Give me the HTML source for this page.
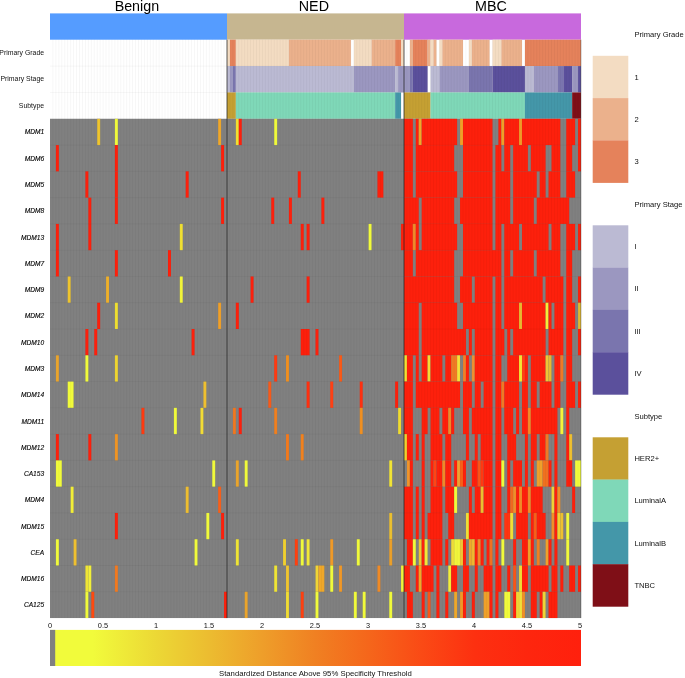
<!DOCTYPE html>
<html><head><meta charset="utf-8"><title>Heatmap</title>
<style>html,body{margin:0;padding:0;background:#fff}svg{display:block;will-change:transform}</style></head>
<body>
<svg width="685" height="678" viewBox="0 0 685 678" font-family="Liberation Sans, sans-serif">
<rect width="685" height="678" fill="#fff"/>
<rect x="50" y="13.4" width="177" height="26.3" fill="#559CFF"/>
<text x="136.9" y="10.7" font-size="14.3" text-anchor="middle" fill="#000">Benign</text>
<rect x="227" y="13.4" width="177" height="26.3" fill="#C6B690"/>
<text x="313.9" y="10.7" font-size="14.3" text-anchor="middle" fill="#000">NED</text>
<rect x="404" y="13.4" width="177" height="26.3" fill="#C869DD"/>
<text x="490.9" y="10.7" font-size="14.3" text-anchor="middle" fill="#000">MBC</text>
<rect x="227" y="39.7" width="2.95" height="26.37" fill="#F3DCC2"/>
<rect x="229.95" y="39.7" width="5.9" height="26.37" fill="#E5825B"/>
<rect x="235.85" y="39.7" width="53.1" height="26.37" fill="#F3DCC2"/>
<rect x="288.95" y="39.7" width="61.95" height="26.37" fill="#EBB18C"/>
<rect x="353.85" y="39.7" width="17.7" height="26.37" fill="#F3DCC2"/>
<rect x="371.55" y="39.7" width="23.6" height="26.37" fill="#EBB18C"/>
<rect x="395.15" y="39.7" width="5.9" height="26.37" fill="#E5825B"/>
<rect x="401.05" y="39.7" width="2.95" height="26.37" fill="#F3DCC2"/>
<rect x="409.9" y="39.7" width="2.95" height="26.37" fill="#EBB18C"/>
<rect x="412.85" y="39.7" width="14.75" height="26.37" fill="#E5825B"/>
<rect x="427.6" y="39.7" width="2.95" height="26.37" fill="#EBB18C"/>
<rect x="430.55" y="39.7" width="2.95" height="26.37" fill="#F3DCC2"/>
<rect x="433.5" y="39.7" width="2.95" height="26.37" fill="#EBB18C"/>
<rect x="439.4" y="39.7" width="2.95" height="26.37" fill="#F3DCC2"/>
<rect x="442.35" y="39.7" width="20.65" height="26.37" fill="#EBB18C"/>
<rect x="468.9" y="39.7" width="2.95" height="26.37" fill="#F3DCC2"/>
<rect x="471.85" y="39.7" width="17.7" height="26.37" fill="#EBB18C"/>
<rect x="492.5" y="39.7" width="8.85" height="26.37" fill="#F3DCC2"/>
<rect x="501.35" y="39.7" width="20.65" height="26.37" fill="#EBB18C"/>
<rect x="524.95" y="39.7" width="56.05" height="26.37" fill="#E5825B"/>
<rect x="227" y="66.07" width="2.95" height="26.37" fill="#BBBAD3"/>
<rect x="229.95" y="66.07" width="2.95" height="26.37" fill="#9B97C0"/>
<rect x="232.9" y="66.07" width="2.95" height="26.37" fill="#7A75AE"/>
<rect x="235.85" y="66.07" width="118" height="26.37" fill="#BBBAD3"/>
<rect x="353.85" y="66.07" width="41.3" height="26.37" fill="#9B97C0"/>
<rect x="395.15" y="66.07" width="2.95" height="26.37" fill="#BBBAD3"/>
<rect x="398.1" y="66.07" width="5.9" height="26.37" fill="#9B97C0"/>
<rect x="404" y="66.07" width="5.9" height="26.37" fill="#9B97C0"/>
<rect x="409.9" y="66.07" width="2.95" height="26.37" fill="#7A75AE"/>
<rect x="412.85" y="66.07" width="14.75" height="26.37" fill="#5B509C"/>
<rect x="430.55" y="66.07" width="8.85" height="26.37" fill="#BBBAD3"/>
<rect x="439.4" y="66.07" width="29.5" height="26.37" fill="#9B97C0"/>
<rect x="468.9" y="66.07" width="23.6" height="26.37" fill="#7A75AE"/>
<rect x="492.5" y="66.07" width="32.45" height="26.37" fill="#5B509C"/>
<rect x="524.95" y="66.07" width="8.85" height="26.37" fill="#BBBAD3"/>
<rect x="533.8" y="66.07" width="23.6" height="26.37" fill="#9B97C0"/>
<rect x="557.4" y="66.07" width="5.9" height="26.37" fill="#7A75AE"/>
<rect x="563.3" y="66.07" width="8.85" height="26.37" fill="#5B509C"/>
<rect x="572.15" y="66.07" width="5.9" height="26.37" fill="#9B97C0"/>
<rect x="578.05" y="66.07" width="2.95" height="26.37" fill="#5B509C"/>
<rect x="227" y="92.43" width="8.85" height="26.37" fill="#C5A033"/>
<rect x="235.85" y="92.43" width="159.3" height="26.37" fill="#7FD8B8"/>
<rect x="395.15" y="92.43" width="5.9" height="26.37" fill="#4497A9"/>
<rect x="404" y="92.43" width="26.55" height="26.37" fill="#C5A033"/>
<rect x="430.55" y="92.43" width="94.4" height="26.37" fill="#7FD8B8"/>
<rect x="524.95" y="92.43" width="47.2" height="26.37" fill="#4497A9"/>
<rect x="572.15" y="92.43" width="8.85" height="26.37" fill="#7F0F17"/>
<rect x="50" y="118.8" width="531" height="499.25" fill="#808080"/>
<rect x="97.2" y="118.8" width="2.95" height="26.28" fill="#EFC52E"/>
<rect x="114.9" y="118.8" width="2.95" height="26.28" fill="#F1FB3B"/>
<rect x="218.15" y="118.8" width="2.95" height="26.28" fill="#F0A82A"/>
<rect x="235.85" y="118.8" width="2.95" height="26.28" fill="#F5E12E"/>
<rect x="238.8" y="118.8" width="2.95" height="26.28" fill="#FD200C"/>
<rect x="274.2" y="118.8" width="2.95" height="26.28" fill="#F1FB3B"/>
<rect x="404" y="118.8" width="8.85" height="26.28" fill="#FD200C"/>
<rect x="415.8" y="118.8" width="2.95" height="26.28" fill="#FD200C"/>
<rect x="418.75" y="118.8" width="2.95" height="26.28" fill="#F0A82A"/>
<rect x="421.7" y="118.8" width="35.4" height="26.28" fill="#FD200C"/>
<rect x="460.05" y="118.8" width="2.95" height="26.28" fill="#F0A028"/>
<rect x="463" y="118.8" width="29.5" height="26.28" fill="#FD200C"/>
<rect x="498.4" y="118.8" width="2.95" height="26.28" fill="#FD200C"/>
<rect x="501.35" y="118.8" width="2.95" height="26.28" fill="#F0A028"/>
<rect x="504.3" y="118.8" width="14.75" height="26.28" fill="#FD200C"/>
<rect x="519.05" y="118.8" width="2.95" height="26.28" fill="#F09A28"/>
<rect x="522" y="118.8" width="38.35" height="26.28" fill="#FD200C"/>
<rect x="566.25" y="118.8" width="8.85" height="26.28" fill="#FD200C"/>
<rect x="578.05" y="118.8" width="2.95" height="26.28" fill="#FD200C"/>
<rect x="55.9" y="145.08" width="2.95" height="26.28" fill="#FD200C"/>
<rect x="114.9" y="145.08" width="2.95" height="26.28" fill="#FD200C"/>
<rect x="221.1" y="145.08" width="2.95" height="26.28" fill="#FD200C"/>
<rect x="404" y="145.08" width="8.85" height="26.28" fill="#FD200C"/>
<rect x="415.8" y="145.08" width="38.35" height="26.28" fill="#FD200C"/>
<rect x="463" y="145.08" width="29.5" height="26.28" fill="#FD200C"/>
<rect x="495.45" y="145.08" width="5.9" height="26.28" fill="#FD200C"/>
<rect x="504.3" y="145.08" width="5.9" height="26.28" fill="#FD200C"/>
<rect x="513.15" y="145.08" width="14.75" height="26.28" fill="#FD200C"/>
<rect x="530.85" y="145.08" width="14.75" height="26.28" fill="#FD200C"/>
<rect x="551.5" y="145.08" width="8.85" height="26.28" fill="#FD200C"/>
<rect x="566.25" y="145.08" width="5.9" height="26.28" fill="#FD200C"/>
<rect x="578.05" y="145.08" width="2.95" height="26.28" fill="#FD200C"/>
<rect x="85.4" y="171.35" width="2.95" height="26.28" fill="#FD200C"/>
<rect x="114.9" y="171.35" width="2.95" height="26.28" fill="#FD200C"/>
<rect x="185.7" y="171.35" width="2.95" height="26.28" fill="#FD200C"/>
<rect x="297.8" y="171.35" width="2.95" height="26.28" fill="#FD200C"/>
<rect x="377.45" y="171.35" width="5.9" height="26.28" fill="#FD200C"/>
<rect x="404" y="171.35" width="8.85" height="26.28" fill="#FD200C"/>
<rect x="415.8" y="171.35" width="41.3" height="26.28" fill="#FD200C"/>
<rect x="463" y="171.35" width="29.5" height="26.28" fill="#FD200C"/>
<rect x="495.45" y="171.35" width="14.75" height="26.28" fill="#FD200C"/>
<rect x="513.15" y="171.35" width="23.6" height="26.28" fill="#FD200C"/>
<rect x="539.7" y="171.35" width="5.9" height="26.28" fill="#FD200C"/>
<rect x="548.55" y="171.35" width="11.8" height="26.28" fill="#FD200C"/>
<rect x="566.25" y="171.35" width="8.85" height="26.28" fill="#FD200C"/>
<rect x="88.35" y="197.63" width="2.95" height="26.28" fill="#FD200C"/>
<rect x="114.9" y="197.63" width="2.95" height="26.28" fill="#FD200C"/>
<rect x="221.1" y="197.63" width="2.95" height="26.28" fill="#FD200C"/>
<rect x="271.25" y="197.63" width="2.95" height="26.28" fill="#FD200C"/>
<rect x="288.95" y="197.63" width="2.95" height="26.28" fill="#FD200C"/>
<rect x="321.4" y="197.63" width="2.95" height="26.28" fill="#FD200C"/>
<rect x="404" y="197.63" width="14.75" height="26.28" fill="#FD200C"/>
<rect x="421.7" y="197.63" width="32.45" height="26.28" fill="#FD200C"/>
<rect x="460.05" y="197.63" width="32.45" height="26.28" fill="#FD200C"/>
<rect x="495.45" y="197.63" width="14.75" height="26.28" fill="#FD200C"/>
<rect x="513.15" y="197.63" width="20.65" height="26.28" fill="#FD200C"/>
<rect x="536.75" y="197.63" width="32.45" height="26.28" fill="#FD200C"/>
<rect x="55.9" y="223.91" width="2.95" height="26.28" fill="#FD200C"/>
<rect x="88.35" y="223.91" width="2.95" height="26.28" fill="#FD200C"/>
<rect x="179.8" y="223.91" width="2.95" height="26.28" fill="#F0E032"/>
<rect x="300.75" y="223.91" width="2.95" height="26.28" fill="#FD200C"/>
<rect x="306.65" y="223.91" width="2.95" height="26.28" fill="#FD200C"/>
<rect x="368.6" y="223.91" width="2.95" height="26.28" fill="#F1FB3B"/>
<rect x="401.05" y="223.91" width="2.95" height="26.28" fill="#FD200C"/>
<rect x="404" y="223.91" width="8.85" height="26.28" fill="#FD200C"/>
<rect x="412.85" y="223.91" width="2.95" height="26.28" fill="#F08A28"/>
<rect x="415.8" y="223.91" width="2.95" height="26.28" fill="#FD200C"/>
<rect x="421.7" y="223.91" width="35.4" height="26.28" fill="#FD200C"/>
<rect x="463" y="223.91" width="29.5" height="26.28" fill="#FD200C"/>
<rect x="495.45" y="223.91" width="5.9" height="26.28" fill="#FD200C"/>
<rect x="504.3" y="223.91" width="14.75" height="26.28" fill="#FD200C"/>
<rect x="522" y="223.91" width="26.55" height="26.28" fill="#FD200C"/>
<rect x="551.5" y="223.91" width="8.85" height="26.28" fill="#FD200C"/>
<rect x="566.25" y="223.91" width="8.85" height="26.28" fill="#FD200C"/>
<rect x="578.05" y="223.91" width="2.95" height="26.28" fill="#FD200C"/>
<rect x="55.9" y="250.18" width="2.95" height="26.28" fill="#FD200C"/>
<rect x="114.9" y="250.18" width="2.95" height="26.28" fill="#FD200C"/>
<rect x="168" y="250.18" width="2.95" height="26.28" fill="#FD200C"/>
<rect x="404" y="250.18" width="8.85" height="26.28" fill="#FD200C"/>
<rect x="415.8" y="250.18" width="38.35" height="26.28" fill="#FD200C"/>
<rect x="463" y="250.18" width="38.35" height="26.28" fill="#FD200C"/>
<rect x="504.3" y="250.18" width="5.9" height="26.28" fill="#FD200C"/>
<rect x="513.15" y="250.18" width="20.65" height="26.28" fill="#FD200C"/>
<rect x="536.75" y="250.18" width="23.6" height="26.28" fill="#FD200C"/>
<rect x="566.25" y="250.18" width="5.9" height="26.28" fill="#FD200C"/>
<rect x="67.7" y="276.46" width="2.95" height="26.28" fill="#EFC52E"/>
<rect x="106.05" y="276.46" width="2.95" height="26.28" fill="#EEB02C"/>
<rect x="179.8" y="276.46" width="2.95" height="26.28" fill="#F2F53A"/>
<rect x="250.6" y="276.46" width="2.95" height="26.28" fill="#FD200C"/>
<rect x="306.65" y="276.46" width="2.95" height="26.28" fill="#FD200C"/>
<rect x="404" y="276.46" width="50.15" height="26.28" fill="#FD200C"/>
<rect x="460.05" y="276.46" width="11.8" height="26.28" fill="#FD200C"/>
<rect x="474.8" y="276.46" width="17.7" height="26.28" fill="#FD200C"/>
<rect x="495.45" y="276.46" width="5.9" height="26.28" fill="#FD200C"/>
<rect x="504.3" y="276.46" width="38.35" height="26.28" fill="#FD200C"/>
<rect x="545.6" y="276.46" width="17.7" height="26.28" fill="#FD200C"/>
<rect x="566.25" y="276.46" width="5.9" height="26.28" fill="#FD200C"/>
<rect x="578.05" y="276.46" width="2.95" height="26.28" fill="#FD200C"/>
<rect x="97.2" y="302.73" width="2.95" height="26.28" fill="#FD200C"/>
<rect x="114.9" y="302.73" width="2.95" height="26.28" fill="#F0E030"/>
<rect x="218.15" y="302.73" width="2.95" height="26.28" fill="#F0A028"/>
<rect x="235.85" y="302.73" width="2.95" height="26.28" fill="#FD200C"/>
<rect x="404" y="302.73" width="14.75" height="26.28" fill="#FD200C"/>
<rect x="421.7" y="302.73" width="35.4" height="26.28" fill="#FD200C"/>
<rect x="463" y="302.73" width="29.5" height="26.28" fill="#FD200C"/>
<rect x="495.45" y="302.73" width="5.9" height="26.28" fill="#FD200C"/>
<rect x="504.3" y="302.73" width="14.75" height="26.28" fill="#FD200C"/>
<rect x="519.05" y="302.73" width="2.95" height="26.28" fill="#E8B830"/>
<rect x="522" y="302.73" width="23.6" height="26.28" fill="#FD200C"/>
<rect x="545.6" y="302.73" width="2.95" height="26.28" fill="#F2EE3A"/>
<rect x="548.55" y="302.73" width="2.95" height="26.28" fill="#FD200C"/>
<rect x="554.45" y="302.73" width="8.85" height="26.28" fill="#FD200C"/>
<rect x="566.25" y="302.73" width="8.85" height="26.28" fill="#FD200C"/>
<rect x="578.05" y="302.73" width="2.95" height="26.28" fill="#E0B830"/>
<rect x="85.4" y="329.01" width="2.95" height="26.28" fill="#FD200C"/>
<rect x="94.25" y="329.01" width="2.95" height="26.28" fill="#FD200C"/>
<rect x="191.6" y="329.01" width="2.95" height="26.28" fill="#FD200C"/>
<rect x="300.75" y="329.01" width="8.85" height="26.28" fill="#FD200C"/>
<rect x="315.5" y="329.01" width="2.95" height="26.28" fill="#FD200C"/>
<rect x="404" y="329.01" width="14.75" height="26.28" fill="#FD200C"/>
<rect x="421.7" y="329.01" width="44.25" height="26.28" fill="#FD200C"/>
<rect x="468.9" y="329.01" width="2.95" height="26.28" fill="#FD200C"/>
<rect x="474.8" y="329.01" width="17.7" height="26.28" fill="#FD200C"/>
<rect x="495.45" y="329.01" width="8.85" height="26.28" fill="#FD200C"/>
<rect x="507.25" y="329.01" width="2.95" height="26.28" fill="#FD200C"/>
<rect x="513.15" y="329.01" width="32.45" height="26.28" fill="#FD200C"/>
<rect x="548.55" y="329.01" width="14.75" height="26.28" fill="#FD200C"/>
<rect x="566.25" y="329.01" width="5.9" height="26.28" fill="#FD200C"/>
<rect x="578.05" y="329.01" width="2.95" height="26.28" fill="#FD200C"/>
<rect x="55.9" y="355.29" width="2.95" height="26.28" fill="#EBA52C"/>
<rect x="85.4" y="355.29" width="2.95" height="26.28" fill="#F1FB3B"/>
<rect x="114.9" y="355.29" width="2.95" height="26.28" fill="#F0D630"/>
<rect x="274.2" y="355.29" width="2.95" height="26.28" fill="#FF3A12"/>
<rect x="286" y="355.29" width="2.95" height="26.28" fill="#F09020"/>
<rect x="339.1" y="355.29" width="2.95" height="26.28" fill="#F95A18"/>
<rect x="404" y="355.29" width="2.95" height="26.28" fill="#F2E035"/>
<rect x="406.95" y="355.29" width="5.9" height="26.28" fill="#FD200C"/>
<rect x="415.8" y="355.29" width="2.95" height="26.28" fill="#FD200C"/>
<rect x="421.7" y="355.29" width="5.9" height="26.28" fill="#FD200C"/>
<rect x="427.6" y="355.29" width="2.95" height="26.28" fill="#F5DC35"/>
<rect x="430.55" y="355.29" width="11.8" height="26.28" fill="#FD200C"/>
<rect x="445.3" y="355.29" width="5.9" height="26.28" fill="#FD200C"/>
<rect x="451.2" y="355.29" width="5.9" height="26.28" fill="#F07A25"/>
<rect x="457.1" y="355.29" width="2.95" height="26.28" fill="#F5E23A"/>
<rect x="463" y="355.29" width="2.95" height="26.28" fill="#F08028"/>
<rect x="465.95" y="355.29" width="2.95" height="26.28" fill="#FD200C"/>
<rect x="471.85" y="355.29" width="2.95" height="26.28" fill="#F09030"/>
<rect x="474.8" y="355.29" width="17.7" height="26.28" fill="#FD200C"/>
<rect x="495.45" y="355.29" width="5.9" height="26.28" fill="#FD200C"/>
<rect x="507.25" y="355.29" width="11.8" height="26.28" fill="#FD200C"/>
<rect x="519.05" y="355.29" width="2.95" height="26.28" fill="#F5E535"/>
<rect x="522" y="355.29" width="2.95" height="26.28" fill="#FF4015"/>
<rect x="524.95" y="355.29" width="2.95" height="26.28" fill="#FD200C"/>
<rect x="530.85" y="355.29" width="14.75" height="26.28" fill="#FD200C"/>
<rect x="545.6" y="355.29" width="2.95" height="26.28" fill="#EBC838"/>
<rect x="548.55" y="355.29" width="2.95" height="26.28" fill="#E8B830"/>
<rect x="554.45" y="355.29" width="5.9" height="26.28" fill="#FD200C"/>
<rect x="560.35" y="355.29" width="2.95" height="26.28" fill="#F07A25"/>
<rect x="566.25" y="355.29" width="5.9" height="26.28" fill="#FD200C"/>
<rect x="67.7" y="381.56" width="5.9" height="26.28" fill="#F1FB3B"/>
<rect x="203.4" y="381.56" width="2.95" height="26.28" fill="#EFC030"/>
<rect x="268.3" y="381.56" width="2.95" height="26.28" fill="#F85A1A"/>
<rect x="306.65" y="381.56" width="2.95" height="26.28" fill="#FF3010"/>
<rect x="330.25" y="381.56" width="2.95" height="26.28" fill="#FF4015"/>
<rect x="359.75" y="381.56" width="2.95" height="26.28" fill="#FF3010"/>
<rect x="395.15" y="381.56" width="2.95" height="26.28" fill="#FD200C"/>
<rect x="404" y="381.56" width="8.85" height="26.28" fill="#FD200C"/>
<rect x="415.8" y="381.56" width="44.25" height="26.28" fill="#FD200C"/>
<rect x="463" y="381.56" width="8.85" height="26.28" fill="#FD200C"/>
<rect x="474.8" y="381.56" width="5.9" height="26.28" fill="#FD200C"/>
<rect x="483.65" y="381.56" width="8.85" height="26.28" fill="#FD200C"/>
<rect x="495.45" y="381.56" width="5.9" height="26.28" fill="#FD200C"/>
<rect x="501.35" y="381.56" width="2.95" height="26.28" fill="#F07A25"/>
<rect x="504.3" y="381.56" width="14.75" height="26.28" fill="#FD200C"/>
<rect x="522" y="381.56" width="5.9" height="26.28" fill="#FD200C"/>
<rect x="530.85" y="381.56" width="5.9" height="26.28" fill="#FD200C"/>
<rect x="539.7" y="381.56" width="11.8" height="26.28" fill="#FD200C"/>
<rect x="554.45" y="381.56" width="5.9" height="26.28" fill="#FD200C"/>
<rect x="566.25" y="381.56" width="8.85" height="26.28" fill="#FD200C"/>
<rect x="578.05" y="381.56" width="2.95" height="26.28" fill="#FD200C"/>
<rect x="141.45" y="407.84" width="2.95" height="26.28" fill="#FF3A10"/>
<rect x="173.9" y="407.84" width="2.95" height="26.28" fill="#F1FB3B"/>
<rect x="200.45" y="407.84" width="2.95" height="26.28" fill="#F2DC35"/>
<rect x="232.9" y="407.84" width="2.95" height="26.28" fill="#F07820"/>
<rect x="238.8" y="407.84" width="2.95" height="26.28" fill="#FD200C"/>
<rect x="274.2" y="407.84" width="2.95" height="26.28" fill="#F08020"/>
<rect x="359.75" y="407.84" width="2.95" height="26.28" fill="#F09022"/>
<rect x="398.1" y="407.84" width="2.95" height="26.28" fill="#F0DC30"/>
<rect x="404" y="407.84" width="8.85" height="26.28" fill="#FD200C"/>
<rect x="421.7" y="407.84" width="5.9" height="26.28" fill="#FD200C"/>
<rect x="430.55" y="407.84" width="8.85" height="26.28" fill="#FD200C"/>
<rect x="442.35" y="407.84" width="5.9" height="26.28" fill="#FD200C"/>
<rect x="448.25" y="407.84" width="2.95" height="26.28" fill="#F08A28"/>
<rect x="451.2" y="407.84" width="2.95" height="26.28" fill="#FD200C"/>
<rect x="463" y="407.84" width="5.9" height="26.28" fill="#FD200C"/>
<rect x="471.85" y="407.84" width="20.65" height="26.28" fill="#FD200C"/>
<rect x="495.45" y="407.84" width="5.9" height="26.28" fill="#FD200C"/>
<rect x="504.3" y="407.84" width="8.85" height="26.28" fill="#FD200C"/>
<rect x="516.1" y="407.84" width="2.95" height="26.28" fill="#FD200C"/>
<rect x="522" y="407.84" width="5.9" height="26.28" fill="#FD200C"/>
<rect x="527.9" y="407.84" width="2.95" height="26.28" fill="#F08A28"/>
<rect x="530.85" y="407.84" width="26.55" height="26.28" fill="#FD200C"/>
<rect x="560.35" y="407.84" width="2.95" height="26.28" fill="#F5F53A"/>
<rect x="566.25" y="407.84" width="2.95" height="26.28" fill="#FD200C"/>
<rect x="55.9" y="434.12" width="2.95" height="26.28" fill="#FD200C"/>
<rect x="88.35" y="434.12" width="2.95" height="26.28" fill="#FD200C"/>
<rect x="114.9" y="434.12" width="2.95" height="26.28" fill="#F09525"/>
<rect x="286" y="434.12" width="2.95" height="26.28" fill="#F27A1E"/>
<rect x="300.75" y="434.12" width="2.95" height="26.28" fill="#F2821E"/>
<rect x="404" y="434.12" width="2.95" height="26.28" fill="#F0D030"/>
<rect x="406.95" y="434.12" width="5.9" height="26.28" fill="#FD200C"/>
<rect x="415.8" y="434.12" width="2.95" height="26.28" fill="#FD200C"/>
<rect x="421.7" y="434.12" width="2.95" height="26.28" fill="#FD200C"/>
<rect x="430.55" y="434.12" width="11.8" height="26.28" fill="#FD200C"/>
<rect x="445.3" y="434.12" width="5.9" height="26.28" fill="#FD200C"/>
<rect x="465.95" y="434.12" width="2.95" height="26.28" fill="#FD200C"/>
<rect x="474.8" y="434.12" width="2.95" height="26.28" fill="#FD200C"/>
<rect x="480.7" y="434.12" width="11.8" height="26.28" fill="#FD200C"/>
<rect x="495.45" y="434.12" width="5.9" height="26.28" fill="#FD200C"/>
<rect x="507.25" y="434.12" width="8.85" height="26.28" fill="#FD200C"/>
<rect x="524.95" y="434.12" width="2.95" height="26.28" fill="#FD200C"/>
<rect x="530.85" y="434.12" width="5.9" height="26.28" fill="#FD200C"/>
<rect x="539.7" y="434.12" width="5.9" height="26.28" fill="#FD200C"/>
<rect x="545.6" y="434.12" width="2.95" height="26.28" fill="#F07A25"/>
<rect x="554.45" y="434.12" width="2.95" height="26.28" fill="#FD200C"/>
<rect x="566.25" y="434.12" width="2.95" height="26.28" fill="#FD200C"/>
<rect x="569.2" y="434.12" width="2.95" height="26.28" fill="#EFC030"/>
<rect x="55.9" y="460.39" width="5.9" height="26.28" fill="#F1FB3B"/>
<rect x="212.25" y="460.39" width="2.95" height="26.28" fill="#F1FB3B"/>
<rect x="235.85" y="460.39" width="2.95" height="26.28" fill="#EBA52C"/>
<rect x="244.7" y="460.39" width="2.95" height="26.28" fill="#F1FB3B"/>
<rect x="389.25" y="460.39" width="2.95" height="26.28" fill="#F2E535"/>
<rect x="406.95" y="460.39" width="2.95" height="26.28" fill="#F0952A"/>
<rect x="409.9" y="460.39" width="2.95" height="26.28" fill="#FD200C"/>
<rect x="421.7" y="460.39" width="2.95" height="26.28" fill="#FD200C"/>
<rect x="430.55" y="460.39" width="2.95" height="26.28" fill="#FD200C"/>
<rect x="433.5" y="460.39" width="2.95" height="26.28" fill="#FF4515"/>
<rect x="436.45" y="460.39" width="5.9" height="26.28" fill="#FD200C"/>
<rect x="442.35" y="460.39" width="2.95" height="26.28" fill="#F08A28"/>
<rect x="445.3" y="460.39" width="5.9" height="26.28" fill="#FD200C"/>
<rect x="454.15" y="460.39" width="2.95" height="26.28" fill="#FD200C"/>
<rect x="457.1" y="460.39" width="2.95" height="26.28" fill="#F0A030"/>
<rect x="460.05" y="460.39" width="2.95" height="26.28" fill="#F86018"/>
<rect x="463" y="460.39" width="2.95" height="26.28" fill="#FD200C"/>
<rect x="471.85" y="460.39" width="5.9" height="26.28" fill="#FD200C"/>
<rect x="477.75" y="460.39" width="2.95" height="26.28" fill="#F85518"/>
<rect x="480.7" y="460.39" width="2.95" height="26.28" fill="#FF3A12"/>
<rect x="483.65" y="460.39" width="8.85" height="26.28" fill="#FD200C"/>
<rect x="495.45" y="460.39" width="5.9" height="26.28" fill="#FD200C"/>
<rect x="501.35" y="460.39" width="2.95" height="26.28" fill="#F1FB3B"/>
<rect x="507.25" y="460.39" width="2.95" height="26.28" fill="#FD200C"/>
<rect x="513.15" y="460.39" width="8.85" height="26.28" fill="#FD200C"/>
<rect x="524.95" y="460.39" width="2.95" height="26.28" fill="#FD200C"/>
<rect x="530.85" y="460.39" width="2.95" height="26.28" fill="#FD200C"/>
<rect x="536.75" y="460.39" width="5.9" height="26.28" fill="#EFA02A"/>
<rect x="542.65" y="460.39" width="5.9" height="26.28" fill="#F07020"/>
<rect x="548.55" y="460.39" width="2.95" height="26.28" fill="#FD200C"/>
<rect x="554.45" y="460.39" width="2.95" height="26.28" fill="#FD200C"/>
<rect x="566.25" y="460.39" width="5.9" height="26.28" fill="#FD200C"/>
<rect x="575.1" y="460.39" width="5.9" height="26.28" fill="#F1FB3B"/>
<rect x="70.65" y="486.67" width="2.95" height="26.28" fill="#F2EE38"/>
<rect x="185.7" y="486.67" width="2.95" height="26.28" fill="#EFBE30"/>
<rect x="218.15" y="486.67" width="2.95" height="26.28" fill="#F8601A"/>
<rect x="404" y="486.67" width="8.85" height="26.28" fill="#FD200C"/>
<rect x="415.8" y="486.67" width="2.95" height="26.28" fill="#FD200C"/>
<rect x="421.7" y="486.67" width="2.95" height="26.28" fill="#FD200C"/>
<rect x="430.55" y="486.67" width="11.8" height="26.28" fill="#FD200C"/>
<rect x="445.3" y="486.67" width="8.85" height="26.28" fill="#FD200C"/>
<rect x="454.15" y="486.67" width="2.95" height="26.28" fill="#F1FB3B"/>
<rect x="468.9" y="486.67" width="2.95" height="26.28" fill="#FD200C"/>
<rect x="474.8" y="486.67" width="5.9" height="26.28" fill="#FD200C"/>
<rect x="480.7" y="486.67" width="2.95" height="26.28" fill="#EBC030"/>
<rect x="483.65" y="486.67" width="8.85" height="26.28" fill="#FD200C"/>
<rect x="495.45" y="486.67" width="5.9" height="26.28" fill="#FD200C"/>
<rect x="507.25" y="486.67" width="2.95" height="26.28" fill="#FD200C"/>
<rect x="510.2" y="486.67" width="2.95" height="26.28" fill="#F06A20"/>
<rect x="513.15" y="486.67" width="2.95" height="26.28" fill="#F09028"/>
<rect x="516.1" y="486.67" width="2.95" height="26.28" fill="#FD200C"/>
<rect x="519.05" y="486.67" width="2.95" height="26.28" fill="#F08A28"/>
<rect x="522" y="486.67" width="5.9" height="26.28" fill="#FD200C"/>
<rect x="527.9" y="486.67" width="2.95" height="26.28" fill="#F08A28"/>
<rect x="530.85" y="486.67" width="11.8" height="26.28" fill="#FD200C"/>
<rect x="551.5" y="486.67" width="2.95" height="26.28" fill="#F0D035"/>
<rect x="554.45" y="486.67" width="2.95" height="26.28" fill="#FD200C"/>
<rect x="557.4" y="486.67" width="2.95" height="26.28" fill="#F09028"/>
<rect x="572.15" y="486.67" width="2.95" height="26.28" fill="#FD200C"/>
<rect x="114.9" y="512.94" width="2.95" height="26.28" fill="#FD200C"/>
<rect x="206.35" y="512.94" width="2.95" height="26.28" fill="#F1FB3B"/>
<rect x="221.1" y="512.94" width="2.95" height="26.28" fill="#FD200C"/>
<rect x="389.25" y="512.94" width="2.95" height="26.28" fill="#EBC030"/>
<rect x="404" y="512.94" width="8.85" height="26.28" fill="#FD200C"/>
<rect x="415.8" y="512.94" width="2.95" height="26.28" fill="#FD200C"/>
<rect x="421.7" y="512.94" width="2.95" height="26.28" fill="#FD200C"/>
<rect x="427.6" y="512.94" width="14.75" height="26.28" fill="#FD200C"/>
<rect x="448.25" y="512.94" width="5.9" height="26.28" fill="#FD200C"/>
<rect x="465.95" y="512.94" width="2.95" height="26.28" fill="#F0E035"/>
<rect x="468.9" y="512.94" width="23.6" height="26.28" fill="#FD200C"/>
<rect x="495.45" y="512.94" width="5.9" height="26.28" fill="#FD200C"/>
<rect x="504.3" y="512.94" width="5.9" height="26.28" fill="#FF3512"/>
<rect x="510.2" y="512.94" width="2.95" height="26.28" fill="#F2E035"/>
<rect x="516.1" y="512.94" width="11.8" height="26.28" fill="#FD200C"/>
<rect x="530.85" y="512.94" width="2.95" height="26.28" fill="#FD200C"/>
<rect x="533.8" y="512.94" width="2.95" height="26.28" fill="#F86018"/>
<rect x="536.75" y="512.94" width="8.85" height="26.28" fill="#FD200C"/>
<rect x="551.5" y="512.94" width="2.95" height="26.28" fill="#F09028"/>
<rect x="554.45" y="512.94" width="2.95" height="26.28" fill="#FD200C"/>
<rect x="557.4" y="512.94" width="2.95" height="26.28" fill="#F0D030"/>
<rect x="560.35" y="512.94" width="2.95" height="26.28" fill="#EFC030"/>
<rect x="566.25" y="512.94" width="2.95" height="26.28" fill="#F1FB3B"/>
<rect x="55.9" y="539.22" width="2.95" height="26.28" fill="#F1FB3B"/>
<rect x="73.6" y="539.22" width="2.95" height="26.28" fill="#EFC030"/>
<rect x="194.55" y="539.22" width="2.95" height="26.28" fill="#F1FB3B"/>
<rect x="235.85" y="539.22" width="2.95" height="26.28" fill="#F0E535"/>
<rect x="283.05" y="539.22" width="2.95" height="26.28" fill="#F0D030"/>
<rect x="294.85" y="539.22" width="2.95" height="26.28" fill="#FF4010"/>
<rect x="300.75" y="539.22" width="2.95" height="26.28" fill="#F1FB3B"/>
<rect x="306.65" y="539.22" width="2.95" height="26.28" fill="#F2E838"/>
<rect x="330.25" y="539.22" width="2.95" height="26.28" fill="#F09A28"/>
<rect x="356.8" y="539.22" width="2.95" height="26.28" fill="#F1FB3B"/>
<rect x="389.25" y="539.22" width="2.95" height="26.28" fill="#EBA02A"/>
<rect x="406.95" y="539.22" width="5.9" height="26.28" fill="#FD200C"/>
<rect x="412.85" y="539.22" width="2.95" height="26.28" fill="#F1FB3B"/>
<rect x="418.75" y="539.22" width="2.95" height="26.28" fill="#F0C830"/>
<rect x="421.7" y="539.22" width="2.95" height="26.28" fill="#FD200C"/>
<rect x="424.65" y="539.22" width="2.95" height="26.28" fill="#F2E838"/>
<rect x="430.55" y="539.22" width="11.8" height="26.28" fill="#FD200C"/>
<rect x="445.3" y="539.22" width="2.95" height="26.28" fill="#FD200C"/>
<rect x="451.2" y="539.22" width="2.95" height="26.28" fill="#EEDC38"/>
<rect x="454.15" y="539.22" width="5.9" height="26.28" fill="#F1F53B"/>
<rect x="460.05" y="539.22" width="2.95" height="26.28" fill="#EFC535"/>
<rect x="463" y="539.22" width="2.95" height="26.28" fill="#FD200C"/>
<rect x="468.9" y="539.22" width="2.95" height="26.28" fill="#EFA82A"/>
<rect x="471.85" y="539.22" width="2.95" height="26.28" fill="#EFB830"/>
<rect x="474.8" y="539.22" width="2.95" height="26.28" fill="#FD200C"/>
<rect x="477.75" y="539.22" width="2.95" height="26.28" fill="#F08A28"/>
<rect x="480.7" y="539.22" width="2.95" height="26.28" fill="#FD200C"/>
<rect x="486.6" y="539.22" width="2.95" height="26.28" fill="#FD200C"/>
<rect x="489.55" y="539.22" width="2.95" height="26.28" fill="#F07020"/>
<rect x="495.45" y="539.22" width="2.95" height="26.28" fill="#FD200C"/>
<rect x="501.35" y="539.22" width="2.95" height="26.28" fill="#F1FB3B"/>
<rect x="513.15" y="539.22" width="2.95" height="26.28" fill="#FD200C"/>
<rect x="522" y="539.22" width="5.9" height="26.28" fill="#FD200C"/>
<rect x="527.9" y="539.22" width="2.95" height="26.28" fill="#EFA02A"/>
<rect x="530.85" y="539.22" width="2.95" height="26.28" fill="#FD200C"/>
<rect x="536.75" y="539.22" width="2.95" height="26.28" fill="#F08020"/>
<rect x="545.6" y="539.22" width="2.95" height="26.28" fill="#EFA02A"/>
<rect x="548.55" y="539.22" width="2.95" height="26.28" fill="#FD200C"/>
<rect x="554.45" y="539.22" width="2.95" height="26.28" fill="#FD200C"/>
<rect x="566.25" y="539.22" width="2.95" height="26.28" fill="#F1FB3B"/>
<rect x="85.4" y="565.5" width="2.95" height="26.28" fill="#F0E535"/>
<rect x="88.35" y="565.5" width="2.95" height="26.28" fill="#F2F03A"/>
<rect x="114.9" y="565.5" width="2.95" height="26.28" fill="#F27A20"/>
<rect x="274.2" y="565.5" width="2.95" height="26.28" fill="#F0E535"/>
<rect x="286" y="565.5" width="2.95" height="26.28" fill="#EFC530"/>
<rect x="315.5" y="565.5" width="2.95" height="26.28" fill="#F0D535"/>
<rect x="318.45" y="565.5" width="5.9" height="26.28" fill="#EFA82A"/>
<rect x="330.25" y="565.5" width="2.95" height="26.28" fill="#F1FB3B"/>
<rect x="339.1" y="565.5" width="2.95" height="26.28" fill="#F09828"/>
<rect x="377.45" y="565.5" width="2.95" height="26.28" fill="#F08A25"/>
<rect x="401.05" y="565.5" width="2.95" height="26.28" fill="#F2F03A"/>
<rect x="404" y="565.5" width="5.9" height="26.28" fill="#FD200C"/>
<rect x="415.8" y="565.5" width="2.95" height="26.28" fill="#FD200C"/>
<rect x="418.75" y="565.5" width="2.95" height="26.28" fill="#EFA82A"/>
<rect x="421.7" y="565.5" width="11.8" height="26.28" fill="#FD200C"/>
<rect x="436.45" y="565.5" width="2.95" height="26.28" fill="#FD200C"/>
<rect x="448.25" y="565.5" width="2.95" height="26.28" fill="#F2EE3A"/>
<rect x="451.2" y="565.5" width="5.9" height="26.28" fill="#FD200C"/>
<rect x="463" y="565.5" width="5.9" height="26.28" fill="#FD200C"/>
<rect x="474.8" y="565.5" width="2.95" height="26.28" fill="#FD200C"/>
<rect x="483.65" y="565.5" width="8.85" height="26.28" fill="#FD200C"/>
<rect x="495.45" y="565.5" width="5.9" height="26.28" fill="#FD200C"/>
<rect x="507.25" y="565.5" width="2.95" height="26.28" fill="#FD200C"/>
<rect x="513.15" y="565.5" width="2.95" height="26.28" fill="#F85518"/>
<rect x="519.05" y="565.5" width="2.95" height="26.28" fill="#F0DC35"/>
<rect x="522" y="565.5" width="5.9" height="26.28" fill="#FD200C"/>
<rect x="530.85" y="565.5" width="17.7" height="26.28" fill="#FD200C"/>
<rect x="551.5" y="565.5" width="5.9" height="26.28" fill="#FD200C"/>
<rect x="560.35" y="565.5" width="2.95" height="26.28" fill="#FD200C"/>
<rect x="569.2" y="565.5" width="5.9" height="26.28" fill="#FD200C"/>
<rect x="578.05" y="565.5" width="2.95" height="26.28" fill="#FD200C"/>
<rect x="85.4" y="591.77" width="2.95" height="26.28" fill="#F1FB3B"/>
<rect x="91.3" y="591.77" width="2.95" height="26.28" fill="#FF4A10"/>
<rect x="224.05" y="591.77" width="2.95" height="26.28" fill="#FD200C"/>
<rect x="244.7" y="591.77" width="2.95" height="26.28" fill="#EBA52C"/>
<rect x="286" y="591.77" width="2.95" height="26.28" fill="#F0DC35"/>
<rect x="300.75" y="591.77" width="2.95" height="26.28" fill="#FF4010"/>
<rect x="315.5" y="591.77" width="2.95" height="26.28" fill="#F1FB3B"/>
<rect x="353.85" y="591.77" width="2.95" height="26.28" fill="#F1FB3B"/>
<rect x="362.7" y="591.77" width="2.95" height="26.28" fill="#F1FB3B"/>
<rect x="389.25" y="591.77" width="2.95" height="26.28" fill="#F1FB3B"/>
<rect x="406.95" y="591.77" width="5.9" height="26.28" fill="#FD200C"/>
<rect x="421.7" y="591.77" width="2.95" height="26.28" fill="#FD200C"/>
<rect x="427.6" y="591.77" width="2.95" height="26.28" fill="#F85518"/>
<rect x="436.45" y="591.77" width="2.95" height="26.28" fill="#FD200C"/>
<rect x="445.3" y="591.77" width="2.95" height="26.28" fill="#FD200C"/>
<rect x="454.15" y="591.77" width="2.95" height="26.28" fill="#EFA82A"/>
<rect x="460.05" y="591.77" width="2.95" height="26.28" fill="#F09828"/>
<rect x="463" y="591.77" width="2.95" height="26.28" fill="#FD200C"/>
<rect x="471.85" y="591.77" width="2.95" height="26.28" fill="#FD200C"/>
<rect x="483.65" y="591.77" width="5.9" height="26.28" fill="#EFA02A"/>
<rect x="489.55" y="591.77" width="2.95" height="26.28" fill="#FD200C"/>
<rect x="495.45" y="591.77" width="2.95" height="26.28" fill="#FD200C"/>
<rect x="504.3" y="591.77" width="5.9" height="26.28" fill="#F1FB3B"/>
<rect x="513.15" y="591.77" width="2.95" height="26.28" fill="#FD200C"/>
<rect x="516.1" y="591.77" width="2.95" height="26.28" fill="#F0D535"/>
<rect x="519.05" y="591.77" width="2.95" height="26.28" fill="#F0E03A"/>
<rect x="522" y="591.77" width="2.95" height="26.28" fill="#F09028"/>
<rect x="530.85" y="591.77" width="5.9" height="26.28" fill="#FD200C"/>
<rect x="539.7" y="591.77" width="2.95" height="26.28" fill="#FD200C"/>
<rect x="542.65" y="591.77" width="2.95" height="26.28" fill="#F0D535"/>
<rect x="548.55" y="591.77" width="8.85" height="26.28" fill="#FD200C"/>
<path d="M52.95 39.7V618.05M55.9 39.7V618.05M58.85 39.7V618.05M61.8 39.7V618.05M64.75 39.7V618.05M67.7 39.7V618.05M70.65 39.7V618.05M73.6 39.7V618.05M76.55 39.7V618.05M79.5 39.7V618.05M82.45 39.7V618.05M85.4 39.7V618.05M88.35 39.7V618.05M91.3 39.7V618.05M94.25 39.7V618.05M97.2 39.7V618.05M100.15 39.7V618.05M103.1 39.7V618.05M106.05 39.7V618.05M109 39.7V618.05M111.95 39.7V618.05M114.9 39.7V618.05M117.85 39.7V618.05M120.8 39.7V618.05M123.75 39.7V618.05M126.7 39.7V618.05M129.65 39.7V618.05M132.6 39.7V618.05M135.55 39.7V618.05M138.5 39.7V618.05M141.45 39.7V618.05M144.4 39.7V618.05M147.35 39.7V618.05M150.3 39.7V618.05M153.25 39.7V618.05M156.2 39.7V618.05M159.15 39.7V618.05M162.1 39.7V618.05M165.05 39.7V618.05M168 39.7V618.05M170.95 39.7V618.05M173.9 39.7V618.05M176.85 39.7V618.05M179.8 39.7V618.05M182.75 39.7V618.05M185.7 39.7V618.05M188.65 39.7V618.05M191.6 39.7V618.05M194.55 39.7V618.05M197.5 39.7V618.05M200.45 39.7V618.05M203.4 39.7V618.05M206.35 39.7V618.05M209.3 39.7V618.05M212.25 39.7V618.05M215.2 39.7V618.05M218.15 39.7V618.05M221.1 39.7V618.05M224.05 39.7V618.05M227 39.7V618.05M229.95 39.7V618.05M232.9 39.7V618.05M235.85 39.7V618.05M238.8 39.7V618.05M241.75 39.7V618.05M244.7 39.7V618.05M247.65 39.7V618.05M250.6 39.7V618.05M253.55 39.7V618.05M256.5 39.7V618.05M259.45 39.7V618.05M262.4 39.7V618.05M265.35 39.7V618.05M268.3 39.7V618.05M271.25 39.7V618.05M274.2 39.7V618.05M277.15 39.7V618.05M280.1 39.7V618.05M283.05 39.7V618.05M286 39.7V618.05M288.95 39.7V618.05M291.9 39.7V618.05M294.85 39.7V618.05M297.8 39.7V618.05M300.75 39.7V618.05M303.7 39.7V618.05M306.65 39.7V618.05M309.6 39.7V618.05M312.55 39.7V618.05M315.5 39.7V618.05M318.45 39.7V618.05M321.4 39.7V618.05M324.35 39.7V618.05M327.3 39.7V618.05M330.25 39.7V618.05M333.2 39.7V618.05M336.15 39.7V618.05M339.1 39.7V618.05M342.05 39.7V618.05M345 39.7V618.05M347.95 39.7V618.05M350.9 39.7V618.05M353.85 39.7V618.05M356.8 39.7V618.05M359.75 39.7V618.05M362.7 39.7V618.05M365.65 39.7V618.05M368.6 39.7V618.05M371.55 39.7V618.05M374.5 39.7V618.05M377.45 39.7V618.05M380.4 39.7V618.05M383.35 39.7V618.05M386.3 39.7V618.05M389.25 39.7V618.05M392.2 39.7V618.05M395.15 39.7V618.05M398.1 39.7V618.05M401.05 39.7V618.05M404 39.7V618.05M406.95 39.7V618.05M409.9 39.7V618.05M412.85 39.7V618.05M415.8 39.7V618.05M418.75 39.7V618.05M421.7 39.7V618.05M424.65 39.7V618.05M427.6 39.7V618.05M430.55 39.7V618.05M433.5 39.7V618.05M436.45 39.7V618.05M439.4 39.7V618.05M442.35 39.7V618.05M445.3 39.7V618.05M448.25 39.7V618.05M451.2 39.7V618.05M454.15 39.7V618.05M457.1 39.7V618.05M460.05 39.7V618.05M463 39.7V618.05M465.95 39.7V618.05M468.9 39.7V618.05M471.85 39.7V618.05M474.8 39.7V618.05M477.75 39.7V618.05M480.7 39.7V618.05M483.65 39.7V618.05M486.6 39.7V618.05M489.55 39.7V618.05M492.5 39.7V618.05M495.45 39.7V618.05M498.4 39.7V618.05M501.35 39.7V618.05M504.3 39.7V618.05M507.25 39.7V618.05M510.2 39.7V618.05M513.15 39.7V618.05M516.1 39.7V618.05M519.05 39.7V618.05M522 39.7V618.05M524.95 39.7V618.05M527.9 39.7V618.05M530.85 39.7V618.05M533.8 39.7V618.05M536.75 39.7V618.05M539.7 39.7V618.05M542.65 39.7V618.05M545.6 39.7V618.05M548.55 39.7V618.05M551.5 39.7V618.05M554.45 39.7V618.05M557.4 39.7V618.05M560.35 39.7V618.05M563.3 39.7V618.05M566.25 39.7V618.05M569.2 39.7V618.05M572.15 39.7V618.05M575.1 39.7V618.05M578.05 39.7V618.05" stroke="#000" stroke-opacity="0.075" stroke-width="0.5" fill="none"/>
<path d="M50 66.07H581M50 92.43H581M50 118.8H581M50 145.08H581M50 171.35H581M50 197.63H581M50 223.91H581M50 250.18H581M50 276.46H581M50 302.73H581M50 329.01H581M50 355.29H581M50 381.56H581M50 407.84H581M50 434.12H581M50 460.39H581M50 486.67H581M50 512.94H581M50 539.22H581M50 565.5H581M50 591.77H581" stroke="#000" stroke-opacity="0.07" stroke-width="0.5" fill="none"/>
<line x1="227" y1="39.7" x2="227" y2="618.05" stroke="#262626" stroke-width="0.75"/>
<line x1="404" y1="39.7" x2="404" y2="618.05" stroke="#262626" stroke-width="0.75"/>
<line x1="580.9" y1="39.7" x2="580.9" y2="618.05" stroke="#303030" stroke-opacity="0.7" stroke-width="0.6"/>
<text x="44.1" y="54.78" font-size="6.9" text-anchor="end" fill="#111">Primary Grade</text>
<text x="44.1" y="81.15" font-size="6.9" text-anchor="end" fill="#111">Primary Stage</text>
<text x="44.1" y="107.52" font-size="6.9" text-anchor="end" fill="#111">Subtype</text>
<text x="44.1" y="134.49" font-size="6.6" font-style="italic" text-anchor="end" fill="#000" stroke="#000" stroke-width="0.12">MDM1</text>
<text x="44.1" y="160.76" font-size="6.6" font-style="italic" text-anchor="end" fill="#000" stroke="#000" stroke-width="0.12">MDM6</text>
<text x="44.1" y="187.04" font-size="6.6" font-style="italic" text-anchor="end" fill="#000" stroke="#000" stroke-width="0.12">MDM5</text>
<text x="44.1" y="213.32" font-size="6.6" font-style="italic" text-anchor="end" fill="#000" stroke="#000" stroke-width="0.12">MDM8</text>
<text x="44.1" y="239.59" font-size="6.6" font-style="italic" text-anchor="end" fill="#000" stroke="#000" stroke-width="0.12">MDM13</text>
<text x="44.1" y="265.87" font-size="6.6" font-style="italic" text-anchor="end" fill="#000" stroke="#000" stroke-width="0.12">MDM7</text>
<text x="44.1" y="292.15" font-size="6.6" font-style="italic" text-anchor="end" fill="#000" stroke="#000" stroke-width="0.12">MDM9</text>
<text x="44.1" y="318.42" font-size="6.6" font-style="italic" text-anchor="end" fill="#000" stroke="#000" stroke-width="0.12">MDM2</text>
<text x="44.1" y="344.7" font-size="6.6" font-style="italic" text-anchor="end" fill="#000" stroke="#000" stroke-width="0.12">MDM10</text>
<text x="44.1" y="370.97" font-size="6.6" font-style="italic" text-anchor="end" fill="#000" stroke="#000" stroke-width="0.12">MDM3</text>
<text x="44.1" y="397.25" font-size="6.6" font-style="italic" text-anchor="end" fill="#000" stroke="#000" stroke-width="0.12">MDM14</text>
<text x="44.1" y="423.53" font-size="6.6" font-style="italic" text-anchor="end" fill="#000" stroke="#000" stroke-width="0.12">MDM11</text>
<text x="44.1" y="449.8" font-size="6.6" font-style="italic" text-anchor="end" fill="#000" stroke="#000" stroke-width="0.12">MDM12</text>
<text x="44.1" y="476.08" font-size="6.6" font-style="italic" text-anchor="end" fill="#000" stroke="#000" stroke-width="0.12">CA153</text>
<text x="44.1" y="502.36" font-size="6.6" font-style="italic" text-anchor="end" fill="#000" stroke="#000" stroke-width="0.12">MDM4</text>
<text x="44.1" y="528.63" font-size="6.6" font-style="italic" text-anchor="end" fill="#000" stroke="#000" stroke-width="0.12">MDM15</text>
<text x="44.1" y="554.91" font-size="6.6" font-style="italic" text-anchor="end" fill="#000" stroke="#000" stroke-width="0.12">CEA</text>
<text x="44.1" y="581.19" font-size="6.6" font-style="italic" text-anchor="end" fill="#000" stroke="#000" stroke-width="0.12">MDM16</text>
<text x="44.1" y="607.46" font-size="6.6" font-style="italic" text-anchor="end" fill="#000" stroke="#000" stroke-width="0.12">CA125</text>
<text x="50" y="628.0" font-size="7.4" text-anchor="middle" fill="#111">0</text>
<text x="103" y="628.0" font-size="7.4" text-anchor="middle" fill="#111">0.5</text>
<text x="156" y="628.0" font-size="7.4" text-anchor="middle" fill="#111">1</text>
<text x="209" y="628.0" font-size="7.4" text-anchor="middle" fill="#111">1.5</text>
<text x="262" y="628.0" font-size="7.4" text-anchor="middle" fill="#111">2</text>
<text x="315" y="628.0" font-size="7.4" text-anchor="middle" fill="#111">2.5</text>
<text x="368" y="628.0" font-size="7.4" text-anchor="middle" fill="#111">3</text>
<text x="421" y="628.0" font-size="7.4" text-anchor="middle" fill="#111">3.5</text>
<text x="474" y="628.0" font-size="7.4" text-anchor="middle" fill="#111">4</text>
<text x="527" y="628.0" font-size="7.4" text-anchor="middle" fill="#111">4.5</text>
<text x="580" y="628.0" font-size="7.4" text-anchor="middle" fill="#111">5</text>
<defs><linearGradient id="cb" x1="0" x2="1" y1="0" y2="0"><stop offset="0" stop-color="#F1FB3B"/><stop offset="0.08" stop-color="#F1FB3B"/><stop offset="0.2" stop-color="#ECD835"/><stop offset="0.3" stop-color="#ECBC30"/><stop offset="0.4" stop-color="#EE9E2A"/><stop offset="0.5" stop-color="#F08022"/><stop offset="0.6" stop-color="#F5661B"/><stop offset="0.7" stop-color="#FA4A15"/><stop offset="0.8" stop-color="#FD3010"/><stop offset="0.9" stop-color="#FE260E"/><stop offset="1" stop-color="#FF200D"/></linearGradient></defs>
<rect x="50" y="629.9" width="531" height="36.1" fill="url(#cb)"/>
<rect x="50" y="629.9" width="5.2" height="36.1" fill="#808080"/>
<text x="315.4" y="675.6" font-size="7.75" text-anchor="middle" fill="#111">Standardized Distance Above 95% Specificity Threshold</text>
<text x="634.4" y="37.3" font-size="7.6" fill="#111">Primary Grade</text>
<rect x="592.7" y="55.8" width="35.6" height="42.5" fill="#F3DCC2"/>
<text x="634.4" y="79.65" font-size="7.6" fill="#111">1</text>
<rect x="592.7" y="98.1" width="35.6" height="42.5" fill="#EBB18C"/>
<text x="634.4" y="121.95" font-size="7.6" fill="#111">2</text>
<rect x="592.7" y="140.4" width="35.6" height="42.5" fill="#E5825B"/>
<text x="634.4" y="164.25" font-size="7.6" fill="#111">3</text>
<text x="634.4" y="207.3" font-size="7.6" fill="#111">Primary Stage</text>
<rect x="592.7" y="225.3" width="35.6" height="42.5" fill="#BBBAD3"/>
<text x="634.4" y="249.15" font-size="7.6" fill="#111">I</text>
<rect x="592.7" y="267.6" width="35.6" height="42.5" fill="#9B97C0"/>
<text x="634.4" y="291.45" font-size="7.6" fill="#111">II</text>
<rect x="592.7" y="309.9" width="35.6" height="42.5" fill="#7A75AE"/>
<text x="634.4" y="333.75" font-size="7.6" fill="#111">III</text>
<rect x="592.7" y="352.2" width="35.6" height="42.5" fill="#5B509C"/>
<text x="634.4" y="376.05" font-size="7.6" fill="#111">IV</text>
<text x="634.4" y="418.9" font-size="7.6" fill="#111">Subtype</text>
<rect x="592.7" y="437.3" width="35.6" height="42.5" fill="#C5A033"/>
<text x="634.4" y="461.15" font-size="7.6" fill="#111">HER2+</text>
<rect x="592.7" y="479.6" width="35.6" height="42.5" fill="#7FD8B8"/>
<text x="634.4" y="503.45" font-size="7.6" fill="#111">LuminalA</text>
<rect x="592.7" y="521.9" width="35.6" height="42.5" fill="#4497A9"/>
<text x="634.4" y="545.75" font-size="7.6" fill="#111">LuminalB</text>
<rect x="592.7" y="564.2" width="35.6" height="42.5" fill="#7F0F17"/>
<text x="634.4" y="588.05" font-size="7.6" fill="#111">TNBC</text>
</svg>
</body></html>
